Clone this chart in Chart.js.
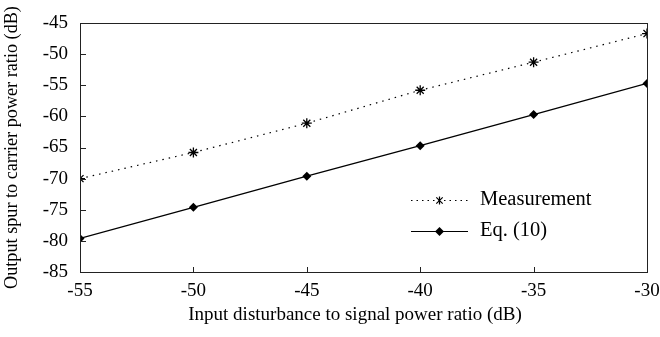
<!DOCTYPE html>
<html><head><meta charset="utf-8">
<script src="https://cdn.jsdelivr.net/npm/chart.js@4/dist/chart.umd.min.js"></script>
<style>html,body{margin:0;padding:0;background:#fff}#wrap{width:660px;height:337px}</style>
</head><body><div id="wrap"><canvas id="c" width="660" height="337"></canvas></div>
<script>
const xValues = [-55, -50, -45, -40, -35, -30];
const measurement = [-70.0, -65.8, -61.1, -55.8, -51.3, -46.7];
const eq10 = [-79.6, -74.6, -69.6, -64.7, -59.7, -54.7];
const seriesNames = ["Measurement", "Eq. (10)"];
const xTitle = "Input disturbance to signal power ratio (dB)";
const yTitle = "Output spur to carrier power ratio (dB)";

const FONT = "'Liberation Serif', 'Times New Roman', serif";

function drawMarker(ctx, style, x, y, r) {
  ctx.save();
  ctx.fillStyle = '#000'; ctx.strokeStyle = '#000'; ctx.lineWidth = 1.2; ctx.setLineDash([]);
  if (style === 'rectRot') {
    ctx.beginPath(); ctx.moveTo(x, y - r); ctx.lineTo(x + r, y); ctx.lineTo(x, y + r); ctx.lineTo(x - r, y); ctx.closePath(); ctx.fill();
  } else {
    ctx.beginPath();
    ctx.moveTo(x, y - r); ctx.lineTo(x, y + r);
    const d = r * 0.8;
    ctx.moveTo(x - d, y - d); ctx.lineTo(x + d, y + d);
    ctx.moveTo(x - d, y + d); ctx.lineTo(x + d, y - d);
    ctx.stroke();
  }
  ctx.restore();
}

const framePlugin = {
  id: 'frame',
  afterDraw(chart) {
    const {ctx, chartArea: a, scales} = chart;
    ctx.save();
    ctx.strokeStyle = '#222'; ctx.lineWidth = 1;
    ctx.strokeRect(Math.round(a.left) + 0.5, Math.round(a.top) + 0.5, Math.round(a.right - a.left), Math.round(a.bottom - a.top));
    ctx.beginPath();
    scales.x.ticks.forEach(t => {
      const px = Math.round(scales.x.getPixelForValue(t.value)) + 0.5;
      ctx.moveTo(px, a.bottom); ctx.lineTo(px, a.bottom - 5);
    });
    scales.y.ticks.forEach(t => {
      const py = Math.round(scales.y.getPixelForValue(t.value)) + 0.5;
      ctx.moveTo(a.left, py); ctx.lineTo(a.left + 6, py);
    });
    ctx.stroke();
    // x-axis title
    ctx.fillStyle = '#000';
    ctx.font = "19px " + FONT;
    ctx.textAlign = 'center'; ctx.textBaseline = 'middle';
    ctx.fillText(xTitle, 355, 315);
    // legend
    const lx0 = 411, lx1 = 468, tx = 480;
    const rows = [[200, [1.5, 4], 'star'], [231, [], 'rectRot']];
    chart.data.datasets.forEach((ds, i) => {
      const [ly, dash, ps] = rows[i];
      ctx.save();
      ctx.strokeStyle = '#000'; ctx.lineWidth = 1; ctx.setLineDash(dash);
      ctx.beginPath(); ctx.moveTo(lx0, ly + 0.5); ctx.lineTo(lx1, ly + 0.5); ctx.stroke();
      ctx.restore();
      drawMarker(ctx, ps, (lx0 + lx1) / 2, ly + 0.5, ps === 'rectRot' ? 4.5 : 4);
      ctx.fillStyle = '#000';
      ctx.font = "20.5px " + FONT;
      ctx.textBaseline = 'middle'; ctx.textAlign = 'left';
      ctx.fillText(ds.label, tx, ly);
    });
    ctx.restore();
  }
};

new Chart(document.getElementById('c'), {
  type: 'line',
  data: {
    datasets: [
      {
        label: seriesNames[0],
        data: xValues.map((x, i) => ({x, y: measurement[i]})),
        borderColor: '#000', backgroundColor: '#000', borderWidth: 1.2,
        borderDash: [1.5, 5], pointStyle: 'star', pointRadius: 5,
        pointBorderWidth: 1.3, pointBorderColor: '#000', tension: 0
      },
      {
        label: seriesNames[1],
        data: xValues.map((x, i) => ({x, y: eq10[i]})),
        borderColor: '#000', backgroundColor: '#000', borderWidth: 1.3,
        pointStyle: 'rectRot', pointRadius: 4.5, pointBorderWidth: 0, tension: 0
      }
    ]
  },
  options: {
    responsive: false, animation: false,
    layout: {padding: {top: 23, right: 13, left: 0, bottom: 0}},
    plugins: {legend: {display: false}, tooltip: {enabled: false}},
    scales: {
      x: {
        type: 'linear', min: -55, max: -30,
        ticks: {stepSize: 5, color: '#000', font: {family: FONT, size: 19}, padding: 8, maxRotation: 0},
        grid: {display: false, drawTicks: false}, border: {display: false},
        title: {display: false, text: xTitle},
        afterFit(s) { s.height = 65; s.paddingLeft = 0; s.paddingRight = 0; }
      },
      y: {
        type: 'linear', min: -85, max: -45,
        ticks: {stepSize: 5, color: '#000', font: {family: FONT, size: 19}, padding: 12},
        grid: {display: false, drawTicks: false}, border: {display: false},
        title: {display: true, text: yTitle, color: '#000', font: {family: FONT, size: 18.2}, padding: {top: 1, bottom: 0}},
        afterFit(s) { s.width = 80; s.paddingTop = 0; s.paddingBottom = 0; }
      }
    }
  },
  plugins: [framePlugin]
});
</script></body></html>
